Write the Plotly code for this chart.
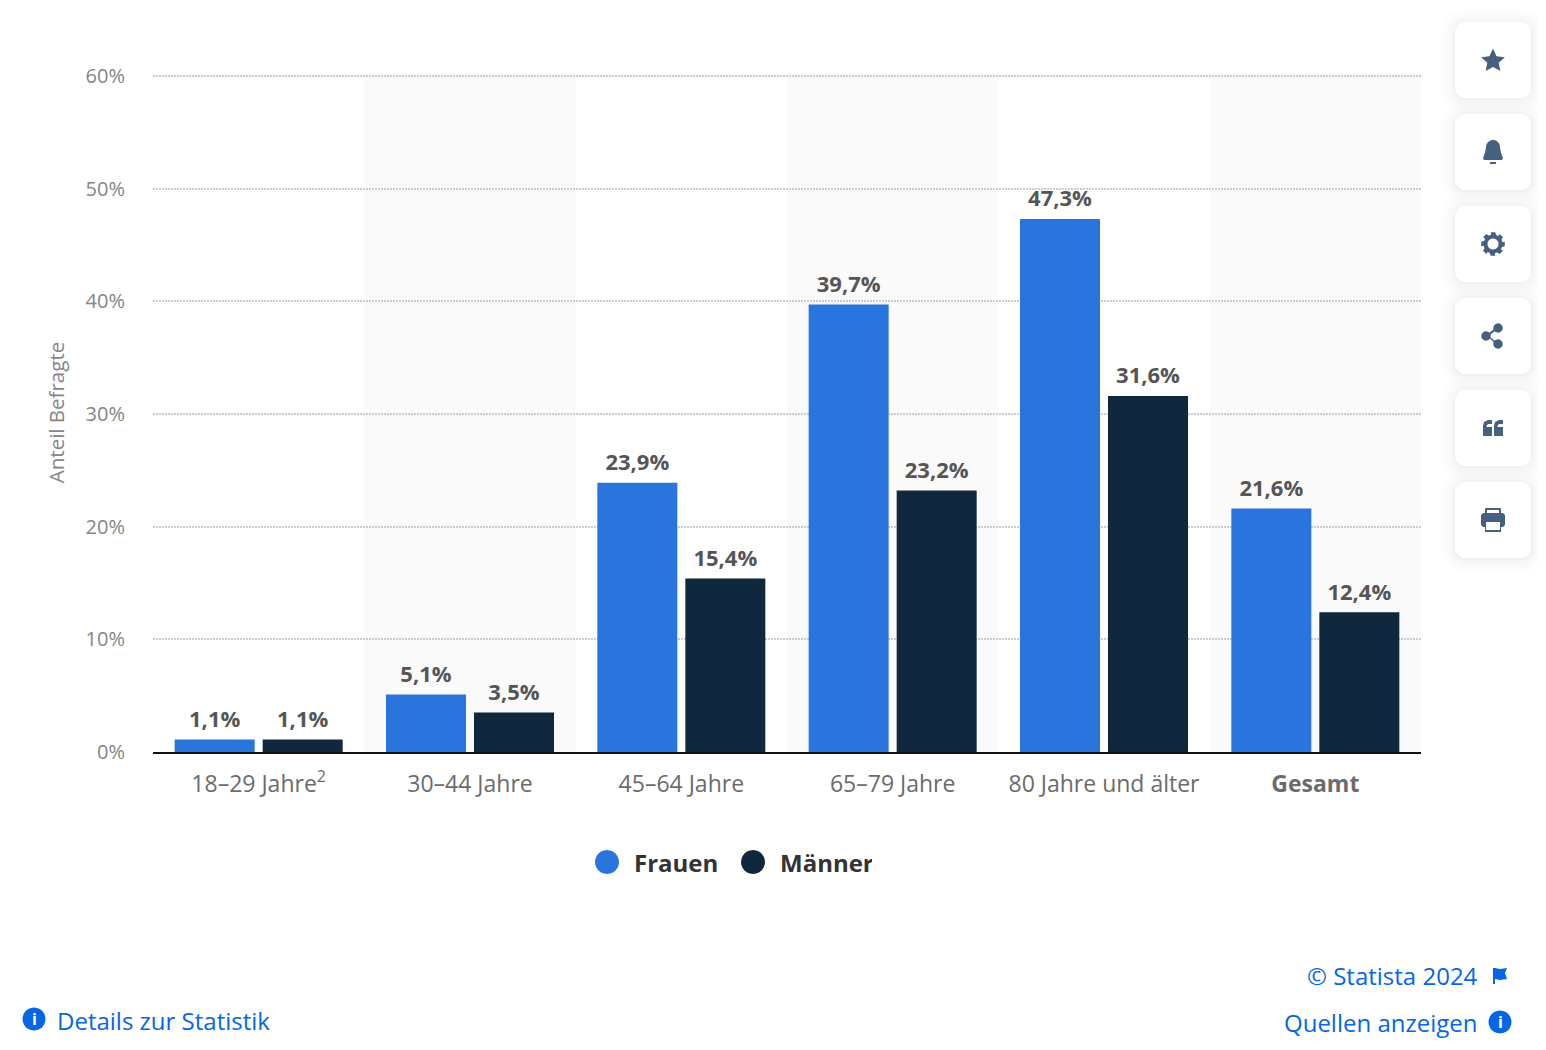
import math

import plotly.graph_objects as go

categories = ['18–29 Jahre<sup>2</sup>', '30–44 Jahre', '45–64 Jahre', '65–79 Jahre', '80 Jahre und älter', '<b>Gesamt</b>']
frauen = [1.1, 5.1, 23.9, 39.7, 47.3, 21.6]
maenner = [1.1, 3.5, 15.4, 23.2, 31.6, 12.4]
y_ticks = [0, 10, 20, 30, 40, 50, 60]
y_labels = ['0%', '10%', '20%', '30%', '40%', '50%', '60%']

BLUE = '#2975dd'
NAVY = '#0f283e'
LINK = '#0666e4'
ICON = '#46607f'

# the page puts the figure 8px in from the window edge
W, H = 1538, 1034
LEFT, TOP = 145, 65
PLOT_W, PLOT_H = 1268, 679


def px_x(x):
    return (x - 8 - LEFT) / PLOT_W


def px_y(y):
    return 1 - (y - 8 - TOP) / PLOT_H


def pt(x, y):
    return f'{px_x(x):.5f},{px_y(y):.5f}'


def poly(points):
    return 'M' + ' L'.join(pt(x, y) for x, y in points) + ' Z'


def round_rect(x0, y0, x1, y1, r):
    # corners are drawn as short polylines, arcs don't scale in paper units
    points = []
    corners = [(x1 - r, y0 + r, -90), (x1 - r, y1 - r, 0), (x0 + r, y1 - r, 90), (x0 + r, y0 + r, 180)]
    for cx, cy, start in corners:
        for step in range(7):
            a = math.radians(start + step * 15)
            points.append((cx + r * math.cos(a), cy + r * math.sin(a)))
    return poly(points)


def circle(cx, cy, r):
    return poly([(cx + r * math.cos(math.radians(a)), cy + r * math.sin(math.radians(a))) for a in range(0, 360, 15)])


def fill(path, color=ICON, opacity=1):
    return dict(type='path', xref='paper', yref='paper', path=path, fillcolor=color,
                line=dict(width=0), opacity=opacity, layer='above')


def star(cx, cy, outer, inner):
    return poly([(cx + (outer if i % 2 == 0 else inner) * math.sin(math.radians(i * 36)),
                  cy - (outer if i % 2 == 0 else inner) * math.cos(math.radians(i * 36))) for i in range(10)])


def gear(cx, cy, outer, inner):
    points = []
    for i in range(8):
        base = i * 45
        for offset, r in [(-11, outer), (11, outer), (19, inner), (34, inner)]:
            a = math.radians(base + offset - 90)
            points.append((cx + r * math.cos(a), cy + r * math.sin(a)))
    return poly(points)


def bell(cx, top):
    points = []
    for a in range(180, 361, 20):
        points.append((cx + 7 * math.cos(math.radians(a)), top + 7 + 7 * math.sin(math.radians(a))))
    points += [(cx + 8, top + 13), (cx + 10, top + 18), (cx + 9, top + 20),
               (cx - 9, top + 20), (cx - 10, top + 18), (cx - 8, top + 13)]
    return poly(points)


shapes = []

# alternating column bands
for i in [1, 3, 5]:
    shapes.append(dict(type='rect', xref='x', yref='paper', x0=i - 0.5, x1=i + 0.5, y0=0, y1=1,
                       fillcolor='#fafafa', line=dict(width=0), layer='below'))

# side buttons
button_tops = [22, 114, 206, 298, 390, 482]
for top in button_tops:
    for grow, alpha in [(14, 0.010), (10, 0.012), (6, 0.016), (3, 0.02), (1, 0.03)]:
        shapes.append(fill(round_rect(1455 - grow, top - grow + 1, 1531 + grow, top + 76 + grow + 1, 10 + grow),
                           '#3c5a7a', alpha))
    shapes.append(fill(round_rect(1455, top, 1531, top + 76, 10), '#ffffff'))

shapes.append(fill(star(1493, 61, 12.5, 6)))

shapes.append(fill(bell(1493, 140)))
shapes.append(fill(poly([(1490, 162), (1496, 162), (1496, 164), (1490, 164)])))

shapes.append(fill(gear(1493, 244, 12, 9.5)))
shapes.append(fill(circle(1493, 244, 5.5), '#ffffff'))

# share
shapes.append(fill(circle(1498, 328, 4.7)))
shapes.append(fill(circle(1486, 336, 4.7)))
shapes.append(fill(circle(1498, 344, 4.7)))
shapes.append(fill(poly([(1497, 327), (1498, 329), (1487, 337), (1486, 335)])))
shapes.append(fill(poly([(1486, 335), (1487, 335), (1498, 343), (1497, 345)])))

# quote marks
for x in [1483, 1494]:
    shapes.append(fill(poly([(x, 436), (x + 9, 436), (x + 9, 427), (x + 3.5, 427), (x + 3.5, 426),
                             (x + 5, 424), (x + 9, 424), (x + 9, 420), (x + 5, 420), (x + 1, 422), (x, 426)])))

# printer
shapes.append(fill(round_rect(1485, 508, 1501, 520, 1)))
shapes.append(fill(poly([(1487, 510), (1499, 510), (1499, 516), (1487, 516)]), '#ffffff'))
shapes.append(fill(round_rect(1481, 513, 1505, 527, 3)))
shapes.append(fill(poly([(1485, 521), (1501, 521), (1501, 532), (1485, 532)])))
shapes.append(fill(poly([(1486, 522), (1500, 522), (1500, 530), (1486, 530)]), '#ffffff'))

# link icons
shapes.append(fill(circle(34, 1019, 11.5), LINK))
shapes.append(fill(circle(1500, 1022, 11.5), LINK))
shapes.append(fill(poly([(1493, 968), (1495, 968), (1495, 984), (1493, 984)]), LINK))
shapes.append(fill(poly([(1495, 968), (1500, 969), (1507, 968), (1505, 973), (1507, 979), (1500, 980), (1495, 979)]), LINK))

# legend swatches stop growing below the reference size, so back them with full size dots
shapes.append(fill(circle(607, 862, 12), BLUE))
shapes.append(fill(circle(753, 862, 12), NAVY))


def info_i(x, y):
    return dict(xref='paper', yref='paper', x=px_x(x), y=px_y(y), text='<b>i</b>', showarrow=False,
                font=dict(family='Open Sans', size=16, color='#ffffff'), xanchor='center', yanchor='middle')


def link(text, x, y, anchor):
    return dict(xref='paper', yref='paper', x=px_x(x), y=px_y(y), text=text, showarrow=False,
                font=dict(family='Open Sans', size=24, color=LINK), xanchor=anchor, yanchor='middle')


annotations = [
    info_i(34, 1019),
    info_i(1500, 1022),
    link('Details zur Statistik', 55, 1020, 'left'),
    link('© Statista 2024', 1480, 975, 'right'),
    link('Quellen anzeigen', 1479, 1023, 'right'),
]

fig = go.Figure()
for name, values, color in [('Frauen', frauen, BLUE), ('Männer', maenner, NAVY)]:
    fig.add_trace(go.Bar(x=categories, y=values, name=name, offsetgroup=name,
                         marker=dict(color=color, line=dict(width=0)), showlegend=False))
    # bar labels sit too close to the bar, so they go on a scatter with an invisible marker as spacer
    fig.add_trace(go.Scatter(x=categories, y=values, name=name, offsetgroup=name, mode='markers+text',
                             marker=dict(size=10, opacity=0), texttemplate='%{y:.1f}%', textposition='top center',
                             textfont=dict(family='Open Sans', size=22, color='#555555', weight=700),
                             cliponaxis=False, showlegend=False))
    # bar legend swatches are squares, the reference has round ones
    fig.add_trace(go.Scatter(x=[None], y=[None], mode='markers', name=name, offsetgroup=name,
                             marker=dict(color=color, size=16, line=dict(color=color, width=5))))

fig.update_layout(
    width=W, height=H,
    margin=dict(l=LEFT, r=W - LEFT - PLOT_W, t=TOP, b=H - TOP - PLOT_H, autoexpand=False),
    paper_bgcolor='#ffffff', plot_bgcolor='#ffffff',
    barmode='group', bargap=0.1672, bargroupgap=0.0909,
    scattermode='group', scattergap=0.1672,
    separators=',.',
    shapes=shapes, annotations=annotations,
    legend=dict(orientation='h', x=px_x(580), xanchor='left', y=px_y(863), yanchor='middle',
                font=dict(family='Open Sans', size=24, color='#333333', weight=700),
                itemsizing='trace', itemwidth=44, entrywidth=87, entrywidthmode='pixels',
                bgcolor='rgba(0,0,0,0)'),
)
fig.update_xaxes(categoryorder='array', categoryarray=categories, showline=True, linecolor='#111111', linewidth=2,
                 showgrid=False, ticks='', ticklabelstandoff=10,
                 tickfont=dict(family='Open Sans', size=23, color='#6b6b6b'))
fig.update_yaxes(range=[0, 60.25], tickmode='array', tickvals=y_ticks, ticktext=y_labels, showgrid=True,
                 gridcolor='#cccccc', griddash='1.5px,1.5px', gridwidth=1.5, zeroline=False, showline=False,
                 ticks='', ticklabelstandoff=27,
                 tickfont=dict(family='Open Sans', size=20, color='#858585'),
                 title=dict(text='Anteil Befragte', standoff=15,
                            font=dict(family='Open Sans', size=20.5, color='#858585')))

fig.write_html("out.html")
